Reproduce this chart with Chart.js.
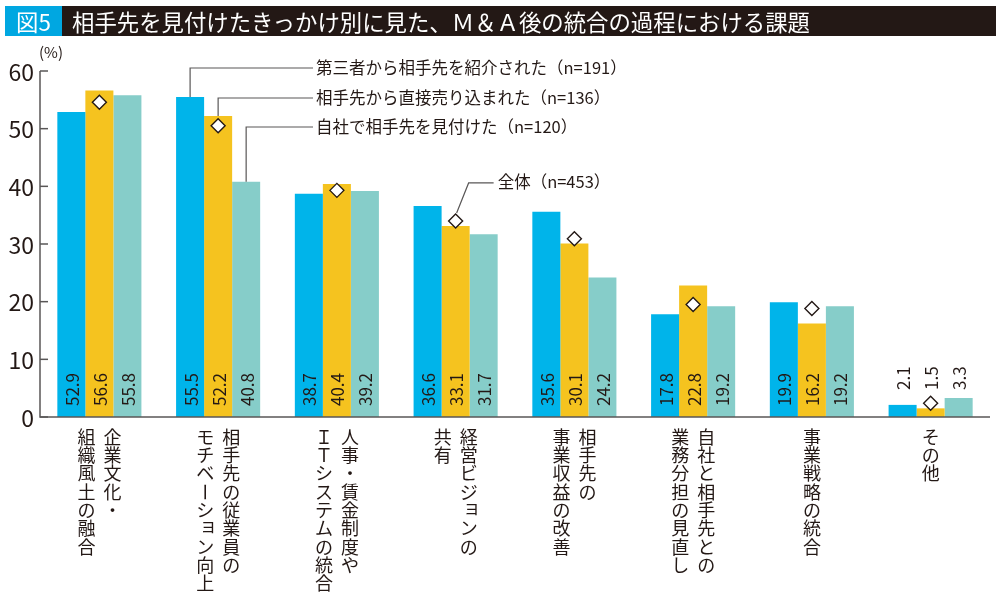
<!DOCTYPE html>
<html lang="ja">
<head>
<meta charset="utf-8">
<script src="https://cdn.jsdelivr.net/npm/chart.js@4"></script>
<style>
  html, body { margin: 0; padding: 0; background: #fff; }
  body { width: 1000px; height: 598px; position: relative; overflow: hidden; font-family: "Noto Sans CJK JP", sans-serif; }
  #title { position: absolute; left: 5px; top: 6px; width: 991px; height: 30px; background: #231815; color: #fff; font-size: 22.4px; line-height: 30px; white-space: nowrap; }
  #title .no { display: inline-block; width: 57px; height: 30px; background: #00a7e1; text-align: center; margin-right: 10px; }
  #chart { position: absolute; left: 0; top: 0; }
</style>
</head>
<body>
<canvas id="chart" width="1000" height="598"></canvas>
<div id="title"><span class="no">図5</span>相手先を見付けたきっかけ別に見た、Ｍ＆Ａ後の統合の過程における課題</div>
<script>
// categories: each entry is the vertical columns, right column first
const categories = [
  ['企業文化・', '組織風土の融合'],
  ['相手先の従業員の', 'モチベーション向上'],
  ['人事・賃金制度や', 'ＩＴシステムの統合'],
  ['経営ビジョンの', '共有'],
  ['相手先の', '事業収益の改善'],
  ['自社と相手先との', '業務分担の見直し'],
  ['事業戦略の統合'],
  ['その他']
]
const seriesNames = ['第三者から相手先を紹介された（n=191）', '相手先から直接売り込まれた（n=136）', '自社で相手先を見付けた（n=120）', '全体（n=453）']
const thirdParty = [52.9, 55.5, 38.7, 36.6, 35.6, 17.8, 19.9, 2.1]
const approached = [56.6, 52.2, 40.4, 33.1, 30.1, 22.8, 16.2, 1.5]
const selfFound = [55.8, 40.8, 39.2, 31.7, 24.2, 19.2, 19.2, 3.3]
const overall = [54.6, 50.5, 39.3, 34.0, 30.9, 19.5, 18.8, 2.4]
const yTicks = [0, 10, 20, 30, 40, 50, 60]

const FONT = '"Noto Sans CJK JP", sans-serif'
const INK = '#231815'
const LINE = '#595757'

// axes, ticks, (%) and vertical category names
const axesPlugin = {
  id: 'axes',
  afterDraw(chart) {
    const { ctx, chartArea: a } = chart
    const y = chart.scales.y, x = chart.scales.x
    ctx.save()
    ctx.strokeStyle = LINE
    ctx.lineWidth = 1.5
    ctx.beginPath()
    ctx.moveTo(a.left, a.top)
    ctx.lineTo(a.left, a.bottom)
    ctx.lineTo(a.right, a.bottom)
    ctx.stroke()
    ctx.fillStyle = INK
    ctx.font = '23px ' + FONT
    ctx.textAlign = 'right'
    ctx.textBaseline = 'middle'
    yTicks.forEach(t => {
      const py = y.getPixelForValue(t)
      ctx.beginPath()
      ctx.moveTo(a.left, py)
      ctx.lineTo(a.left + 8, py)
      ctx.stroke()
      ctx.fillText(String(t), a.left - 6, py + 1)
    })
    ctx.font = '15px ' + FONT
    ctx.textAlign = 'left'
    ctx.fillText('(%)', a.left - 1, a.top - 19)

    // vertical text
    ctx.font = '18px ' + FONT
    ctx.textAlign = 'center'
    const pitch = 18.3, colGap = 26
    categories.forEach((cols, i) => {
      const cx = x.getPixelForValue(i)
      cols.forEach((col, c) => {
        const colX = cx + ((cols.length - 1) / 2 - c) * colGap
        Array.from(col).forEach((ch, k) => {
          const cy = a.bottom + 20 + k * pitch
          if (ch === 'ー') {
            ctx.save()
            ctx.translate(colX, cy)
            ctx.rotate(Math.PI / 2)
            ctx.fillText(ch, 0, 0)
            ctx.restore()
          } else if ('ョッャュ'.includes(ch)) {
            ctx.fillText(ch, colX + 3, cy - 3)
          } else {
            ctx.fillText(ch, colX, cy)
          }
        })
      })
    })
    ctx.restore()
  }
}

// numbers on the bars and the leader lines to series names
const labelPlugin = {
  id: 'labels',
  afterDatasetsDraw(chart) {
    const { ctx } = chart
    const base = chart.scales.y.getPixelForValue(0)
    ctx.save()
    ctx.fillStyle = INK
    ctx.font = '17px ' + FONT
    ctx.textAlign = 'left'
    ctx.textBaseline = 'middle'
    for (let d = 0; d < 3; d++) {
      const meta = chart.getDatasetMeta(d)
      meta.data.forEach((bar, i) => {
        const v = chart.data.datasets[d].data[i]
        const start = v < 10 ? base - 27 : base - 11
        ctx.save()
        ctx.translate(bar.x, start)
        ctx.rotate(-Math.PI / 2)
        ctx.fillText(v.toFixed(1), 0, 1)
        ctx.restore()
      })
    }

    ctx.strokeStyle = LINE
    ctx.lineWidth = 1.2
    ctx.font = '16.5px ' + FONT
    const rows = [68, 98, 127]
    for (let d = 0; d < 3; d++) {
      const bar = chart.getDatasetMeta(d).data[1]
      ctx.beginPath()
      ctx.moveTo(bar.x, bar.y)
      ctx.lineTo(bar.x, rows[d])
      ctx.lineTo(313, rows[d])
      ctx.stroke()
      ctx.fillText(seriesNames[d], 316, rows[d])
    }
    const pt = chart.getDatasetMeta(3).data[3]
    ctx.beginPath()
    ctx.moveTo(pt.x + 1, pt.y - 8)
    ctx.lineTo(pt.x + 13, pt.y - 38)
    ctx.lineTo(pt.x + 38, pt.y - 38)
    ctx.stroke()
    ctx.fillText(seriesNames[3], pt.x + 42, pt.y - 39)
    ctx.restore()
  }
}

new Chart(document.getElementById('chart'), {
  data: {
    labels: categories,
    datasets: [
      { type: 'bar', label: seriesNames[0], data: thirdParty, backgroundColor: '#00b4ea', order: 1 },
      { type: 'bar', label: seriesNames[1], data: approached, backgroundColor: '#f5c31f', order: 1 },
      { type: 'bar', label: seriesNames[2], data: selfFound, backgroundColor: '#86cdc9', order: 1 },
      {
        type: 'line', label: seriesNames[3], data: overall, showLine: false, order: 0,
        pointStyle: 'rectRot', pointRadius: 7, pointBackgroundColor: '#fff',
        pointBorderColor: INK, pointBorderWidth: 1.4
      }
    ]
  },
  options: {
    responsive: false,
    animation: false,
    layout: { padding: { left: 40, right: 10, top: 71, bottom: 181 } },
    datasets: { bar: { categoryPercentage: 0.708, barPercentage: 1 } },
    scales: {
      x: { display: false, offset: true },
      y: { display: false, min: 0, max: 60 }
    },
    plugins: { legend: { display: false }, tooltip: { enabled: false } }
  },
  plugins: [axesPlugin, labelPlugin]
})
</script>
</body>
</html>
